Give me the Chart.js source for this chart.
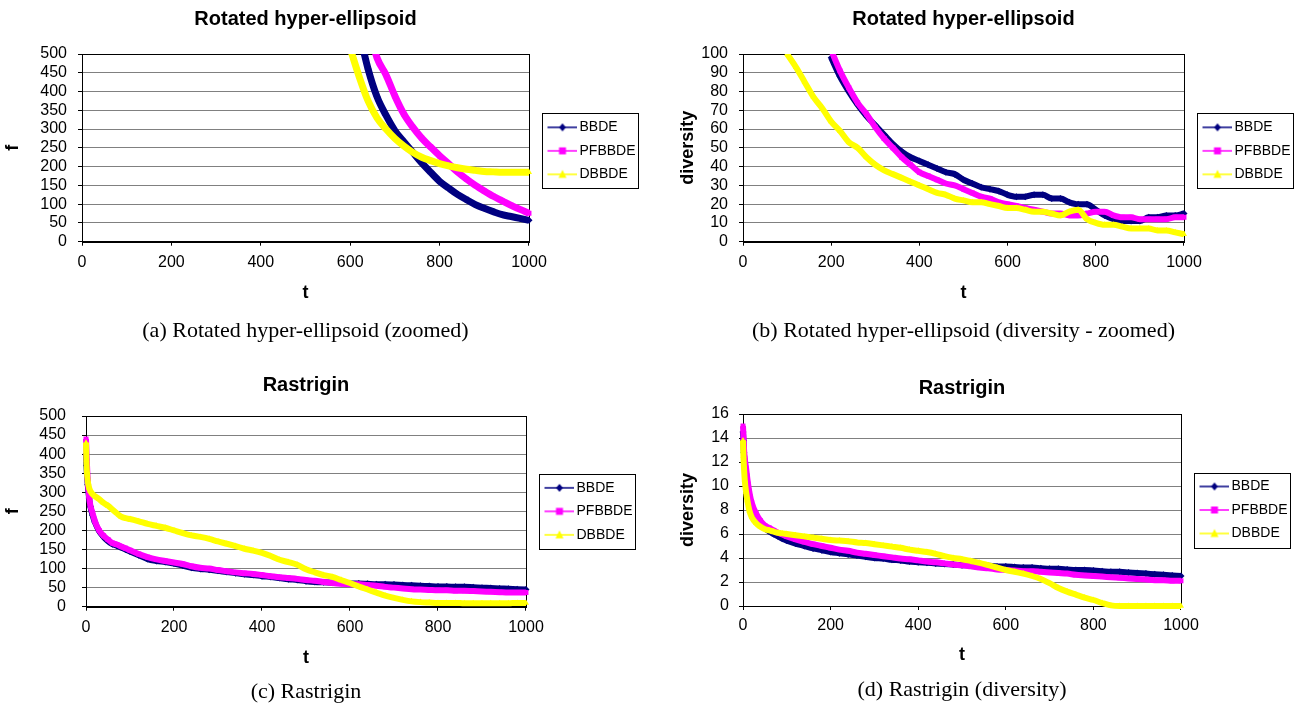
<!DOCTYPE html>
<html lang="en">

<head>
    <meta charset="UTF-8">
    <title>BBDE charts</title>
    <script src="https://cdn.jsdelivr.net/npm/chart.js"></script>
    <style>
        body {
            margin: 0;
            background: #fff;
            width: 1306px;
            height: 704px;
            position: relative;
            overflow: hidden;
        }

        canvas {
            position: absolute;
        }
    </style>
</head>

<body>
    <canvas id="chartA" width="660" height="345" style="left:0;top:0"></canvas>
    <canvas id="chartB" width="646" height="345" style="left:660px;top:0"></canvas>
    <canvas id="chartC" width="660" height="344" style="left:0;top:360px"></canvas>
    <canvas id="chartD" width="646" height="344" style="left:660px;top:360px"></canvas>

    <script>
        const seriesNames = ['BBDE', 'PFBBDE', 'DBBDE'];

        // (a) rotated hyper-ellipsoid, zoomed
        const tA = [600, 620, 640, 660, 680, 700, 720, 740, 760, 780, 800, 820, 840, 860, 880, 900, 920, 940, 960, 980, 1000];
        const aBBDE = [null, 560, 460, 386, 337, 296, 266, 238, 210, 185, 161, 143, 126, 112, 99, 89, 80, 72, 67, 62, 57];
        const aPFBBDE = [null, null, 580, 490, 445, 388, 340, 305, 276, 252, 229, 208, 186, 167, 150, 135, 121, 109, 97, 86, 76];
        const aDBBDE = [515, 440, 375, 330, 300, 275, 255, 238, 225, 216, 208, 202, 197, 193, 190, 187, 186, 185, 185, 185, 185];

        // (b) rotated hyper-ellipsoid, diversity zoomed
        const tB = [100, 120, 140, 160, 180, 200, 220, 240, 260, 280, 300, 320, 340, 360, 380, 400, 420, 440, 460, 480,
            500, 520, 540, 560, 580, 600, 620, 640, 660, 680, 700, 720, 740, 760, 780, 800, 820, 840, 860, 880,
            900, 920, 940, 960, 980, 1000];
        const bBBDE = [null, null, null, null, null,
            98, 88, 80, 73, 67, 62, 57, 52, 48, 45, 43, 41, 39, 37, 36, 33, 31, 29, 28, 27,
            25, 24, 24, 25, 25, 23, 23, 21, 20, 20, 17, 14, 12, 11, 11, 11, 13, 13, 14, 14, 15];
        const bPFBBDE = [null, null, null, null, null,
            102, 91, 82, 74, 68, 61, 55, 50, 45, 41, 37, 35, 33, 31, 30, 28, 26, 24, 23, 21,
            20, 19, 18, 17, 16, 15, 15, 14, 14, 15, 16, 16, 14, 13, 13, 12, 12, 12, 12, 13, 13];
        const bDBBDE = [100, 93, 85, 77, 71, 64, 59, 53, 50, 45, 41, 38, 36, 34, 32, 30, 28, 26, 25, 23,
            22, 21, 21, 20, 19, 18, 18, 17, 16, 16, 15, 14, 16, 17, 12, 10, 9, 9, 8, 7,
            7, 7, 6, 6, 5, 4];

        // (c) rastrigin
        const tC = [0, 1, 2, 4, 7, 10, 15, 20, 30, 40, 50, 60, 70, 80, 90, 100,
            120, 140, 160, 180, 200, 220, 240, 260, 280, 300, 320, 340, 360, 380, 400, 420, 440, 460, 480, 500,
            520, 540, 560, 580, 600, 620, 640, 660, 680, 700, 720, 740, 760, 780, 800, 820, 840, 860, 880, 900,
            920, 940, 960, 980, 1000];
        const cBBDE = [400, 370, 350, 320, 285, 262, 240, 222, 198, 183, 172, 164, 160, 155, 150, 145,
            135, 125, 120, 117, 113, 108, 102, 99, 97, 94, 91, 88, 85, 83, 80, 78, 75, 72, 70, 67,
            65, 64, 63, 62, 61, 61, 60, 59, 59, 58, 57, 56, 55, 54, 53, 53, 52, 52, 51, 50,
            49, 48, 47, 46, 45];
        const cPFBBDE = [440, 410, 380, 330, 290, 265, 245, 225, 200, 186, 176, 167, 163, 158, 153, 148,
            138, 130, 124, 120, 116, 112, 106, 102, 100, 96, 93, 90, 88, 86, 83, 80, 77, 75, 73, 70,
            68, 65, 62, 60, 59, 59, 57, 55, 52, 50, 48, 46, 45, 44, 43, 43, 42, 42, 41, 40,
            39, 38, 37, 37, 37];
        const cDBBDE = [430, 385, 355, 330, 312, 303, 295, 290, 282, 272, 265, 255, 245, 236, 232, 230,
            224, 217, 212, 207, 200, 193, 187, 183, 178, 171, 165, 159, 152, 147, 141, 133, 123, 117, 110, 98,
            90, 83, 78, 70, 62, 53, 45, 37, 29, 23, 18, 14, 12, 11, 10, 10, 10, 9, 9, 9,
            9, 9, 9, 10, 10];

        // (d) rastrigin diversity
        const tD = tC;
        const dBBDE = [14.5, 13.8, 12.8, 11.9, 11.0, 10.2, 9.1, 8.3, 7.4, 6.9, 6.5, 6.2, 6.0, 5.8, 5.6, 5.45,
            5.2, 5.0, 4.8, 4.65, 4.5, 4.4, 4.3, 4.2, 4.1, 4.0, 3.95, 3.85, 3.8, 3.7, 3.65, 3.6, 3.55, 3.5, 3.45, 3.4,
            3.4, 3.35, 3.35, 3.3, 3.3, 3.25, 3.2, 3.2, 3.15, 3.1, 3.1, 3.05, 3.0, 3.0, 2.95, 2.9, 2.85, 2.85, 2.8, 2.75,
            2.7, 2.65, 2.6, 2.55, 2.5];
        const dPFBBDE = [15.0, 14.2, 13.3, 12.3, 11.5, 10.6, 9.4, 8.6, 7.7, 7.1, 6.7, 6.5, 6.3, 6.1, 5.95, 5.8,
            5.55, 5.35, 5.15, 5.0, 4.85, 4.7, 4.6, 4.45, 4.35, 4.25, 4.15, 4.05, 3.95, 3.9, 3.8, 3.7, 3.65, 3.55, 3.45, 3.4,
            3.3, 3.2, 3.15, 3.05, 3.0, 2.95, 2.9, 2.9, 2.85, 2.8, 2.75, 2.7, 2.6, 2.55, 2.5, 2.45, 2.4, 2.35, 2.3, 2.25,
            2.2, 2.15, 2.15, 2.1, 2.1];
        const dDBBDE = [13.8, 12.5, 11.7, 10.5, 9.5, 8.8, 7.9, 7.4, 6.9, 6.6, 6.4, 6.3, 6.2, 6.1, 6.05, 6.0,
            5.9, 5.8, 5.7, 5.6, 5.5, 5.45, 5.4, 5.3, 5.25, 5.15, 5.05, 4.95, 4.85, 4.7, 4.6, 4.5, 4.35, 4.15, 4.0, 3.9,
            3.75, 3.6, 3.4, 3.2, 3.0, 2.85, 2.7, 2.5, 2.25, 1.9, 1.5, 1.2, 0.95, 0.7, 0.5, 0.25, 0.05, 0, 0, 0,
            0, 0, 0, 0, 0];

        const colors = ['#000080', '#ff00ff', '#ffff00'];
        const markers = ['rectRot', 'rect', 'triangle'];

        Chart.defaults.font.family = "'Liberation Sans', Arial, sans-serif";
        Chart.defaults.color = '#000';

        // little line+marker pictures for the legend
        function legendIcon(i) {
            const c = document.createElement('canvas');
            c.width = 44;
            c.height = 14;
            const g = c.getContext('2d');
            g.strokeStyle = colors[i];
            g.fillStyle = colors[i];
            g.lineWidth = 1.5;
            g.beginPath();
            g.moveTo(14, 7);
            g.lineTo(44, 7);
            g.stroke();
            g.beginPath();
            if (i === 0) {
                g.moveTo(29, 3); g.lineTo(32.5, 7); g.lineTo(29, 11); g.lineTo(25.5, 7);
            } else if (i === 1) {
                g.rect(25.5, 3.5, 7, 7);
            } else {
                g.moveTo(29, 2.5); g.lineTo(33, 10.5); g.lineTo(25, 10.5);
            }
            g.closePath();
            g.fill();
            return c;
        }
        const icons = [0, 1, 2].map(legendIcon);

        // black frame round the plot area and round the legend
        const framePlugin = {
            id: 'frame',
            beforeDatasetsDraw(chart) {
                const { ctx, chartArea: a } = chart;
                ctx.save();
                ctx.strokeStyle = '#000';
                ctx.lineWidth = 1;
                ctx.strokeRect(Math.round(a.left) + 0.5, Math.round(a.top) + 0.5,
                    Math.round(a.right) - Math.round(a.left), Math.round(a.bottom) - Math.round(a.top));
                ctx.restore();
            },
            afterDraw(chart) {
                const boxes = chart.legend.legendHitBoxes;
                if (!boxes || !boxes.length) return;
                const left = Math.min(...boxes.map(b => b.left)) + 4;
                const right = Math.max(...boxes.map(b => b.left + b.width)) + 3;
                const top = boxes[0].top - 7;
                const last = boxes[boxes.length - 1];
                const bottom = last.top + last.height + 7;
                const ctx = chart.ctx;
                ctx.save();
                ctx.strokeStyle = '#000';
                ctx.lineWidth = 1;
                ctx.strokeRect(Math.round(left) + 0.5, Math.round(top) + 0.5,
                    Math.round(right - left), Math.round(bottom - top));
                ctx.restore();
            }
        };

        function toPoints(t, v) {
            return t.map((x, i) => ({ x: x, y: v[i] }));
        }

        function renderChart(id, t, values, opt) {
            const datasets = values.map((v, i) => ({
                label: seriesNames[i],
                data: toPoints(t, v),
                borderColor: colors[i],
                backgroundColor: colors[i],
                borderWidth: opt.lineWidth,
                pointStyle: markers[i],
                pointRadius: 3.5,
                pointBorderWidth: 0,
                cubicInterpolationMode: 'monotone',
                order: 3 - i,
                clip: { left: 6, top: 0, right: 6, bottom: 6 }
            }));

            new Chart(document.getElementById(id), {
                type: 'line',
                data: { datasets: datasets },
                plugins: [framePlugin],
                options: {
                    responsive: false,
                    animation: false,
                    layout: { padding: { left: 0, top: 0, bottom: 0, right: opt.padRight } },
                    plugins: {
                        title: {
                            display: true,
                            text: opt.title,
                            fullSize: false,
                            font: { size: 20, weight: 'bold', lineHeight: 1 },
                            padding: { top: opt.titleTop, bottom: opt.titleBottom }
                        },
                        subtitle: {
                            display: true,
                            text: opt.caption,
                            position: 'bottom',
                            fullSize: false,
                            font: { family: "'Liberation Serif', 'Times New Roman', serif", size: 22, lineHeight: 1 },
                            padding: { top: 0, bottom: opt.capBottom }
                        },
                        legend: {
                            position: 'right',
                            fullSize: false,
                            // empty title, only used to push the entries down a little
                            title: {
                                display: opt.legendShift > 0,
                                text: '',
                                font: { size: opt.legendShift, lineHeight: 1 },
                                padding: 0
                            },
                            labels: {
                                usePointStyle: true,
                                pointStyleWidth: 34,
                                padding: 9.5,
                                font: { size: 14 },
                                generateLabels: () => seriesNames.map((name, i) => ({
                                    text: name,
                                    pointStyle: icons[i],
                                    fillStyle: colors[i],
                                    strokeStyle: colors[i],
                                    lineWidth: 0,
                                    hidden: false,
                                    datasetIndex: i
                                }))
                            }
                        },
                        tooltip: { enabled: false }
                    },
                    scales: {
                        x: {
                            type: 'linear',
                            min: 0,
                            max: 1000,
                            afterFit: s => { s.height = opt.xHeight; },
                            ticks: {
                                stepSize: 200, padding: opt.xTickPad, font: { size: 16 }, maxRotation: 0,
                                autoSkip: false,
                                callback: value => String(value)
                            },
                            grid: { drawOnChartArea: false, tickLength: 4, tickColor: '#000' },
                            border: { color: '#000' },
                            title: {
                                display: true,
                                text: 't',
                                font: { size: 18, weight: 'bold' },
                                padding: { top: 0, bottom: opt.xTitlePad }
                            }
                        },
                        y: {
                            min: 0,
                            max: opt.yMax,
                            afterFit: s => { s.width = opt.yWidth; },
                            ticks: {
                                stepSize: opt.yStep, padding: opt.yTickPad, font: { size: 16 },
                                autoSkip: false,
                                callback: value => String(value)
                            },
                            grid: { color: '#808080', tickLength: 4, tickColor: '#000' },
                            border: { color: '#000' },
                            title: {
                                display: true,
                                text: opt.yLabel,
                                font: { size: 18, weight: 'bold' },
                                padding: { top: opt.yTitlePad, bottom: 0 }
                            }
                        }
                    }
                }
            });
        }

        renderChart('chartA', tA, [aBBDE, aPFBBDE, aDBBDE], {
            title: 'Rotated hyper-ellipsoid', caption: '(a) Rotated hyper-ellipsoid (zoomed)', yLabel: 'f',
            yMax: 500, yStep: 50, lineWidth: 7, legendShift: 6,
            padRight: 14.5, titleTop: 9, titleBottom: 25, capBottom: 3,
            xHeight: 78.3, xTickPad: 7.5, xTitlePad: 16.2, yWidth: 82, yTickPad: 11, yTitlePad: 2
        });

        renderChart('chartB', tB, [bBBDE, bPFBBDE, bDBBDE], {
            title: 'Rotated hyper-ellipsoid', caption: '(b) Rotated hyper-ellipsoid (diversity - zoomed)', yLabel: 'diversity',
            yMax: 100, yStep: 10, lineWidth: 6, legendShift: 6,
            padRight: 5.5, titleTop: 9, titleBottom: 25, capBottom: 3,
            xHeight: 78.3, xTickPad: 7.5, xTitlePad: 16.2, yWidth: 83, yTickPad: 11, yTitlePad: 17.2
        });

        renderChart('chartC', tC, [cBBDE, cPFBBDE, cDBBDE], {
            title: 'Rastrigin', caption: '(c) Rastrigin', yLabel: 'f',
            yMax: 500, yStep: 50, lineWidth: 6, legendShift: 0,
            padRight: 17.5, titleTop: 15.5, titleBottom: 20.5, capBottom: 0.5,
            xHeight: 74.8, xTickPad: 6.8, xTitlePad: 12.4, yWidth: 86, yTickPad: 16, yTitlePad: 2
        });

        renderChart('chartD', tD, [dBBDE, dPFBBDE, dDBBDE], {
            title: 'Rastrigin', caption: '(d) Rastrigin (diversity)', yLabel: 'diversity',
            yMax: 16, yStep: 2, lineWidth: 6, legendShift: 0,
            padRight: 8.5, titleTop: 18.3, titleBottom: 15.7, capBottom: 3,
            xHeight: 73, xTickPad: 5.5, xTitlePad: 13.2, yWidth: 83, yTickPad: 10, yTitlePad: 17.2
        });
    </script>
</body>

</html>
